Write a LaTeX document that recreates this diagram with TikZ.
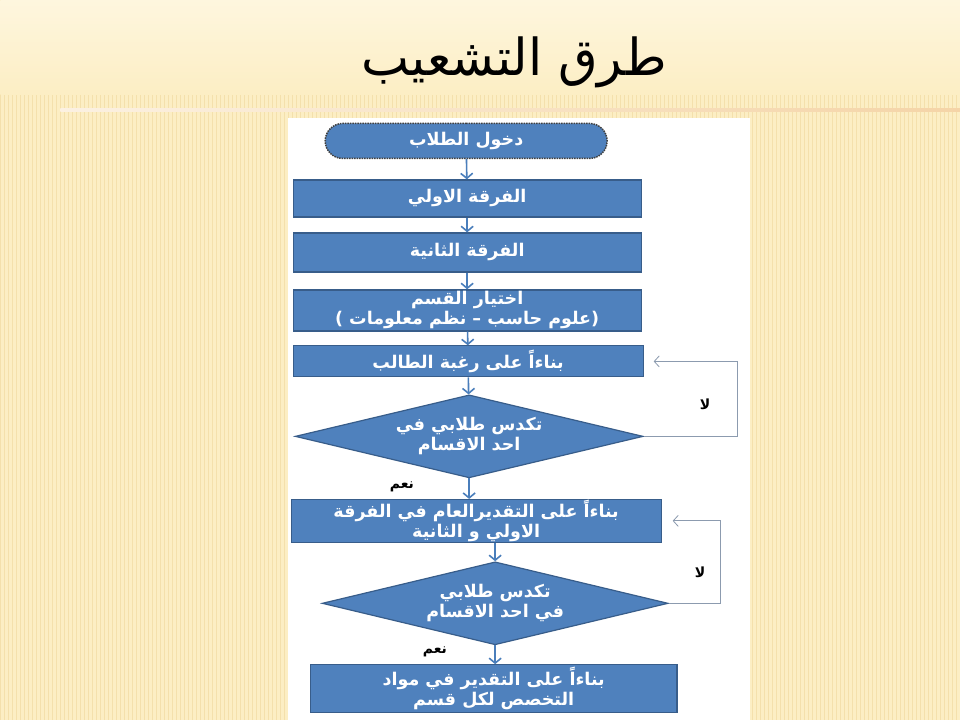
\documentclass[tikz,border=0pt]{standalone}
\usepackage{fontspec}
\usepackage{xcolor}
\usepackage{tikz}
\usetikzlibrary{shapes.geometric, shapes.misc, arrows.meta, positioning, calc}
\TeXXeTstate=1
\newfontfamily\arabicfont[Script=Arabic]{DejaVu Sans}
\definecolor{boxblue}{RGB}{79,129,189}
\definecolor{boxedge}{RGB}{56,93,138}
\definecolor{arrowblue}{RGB}{74,126,187}
\definecolor{loopgray}{RGB}{140,155,175}
\definecolor{paper}{RGB}{252,238,196}
\definecolor{papertop}{RGB}{254,246,222}
\definecolor{stripe}{RGB}{230,200,130}
\definecolor{rule}{RGB}{232,160,60}
\tikzstyle{arrow} = [line width=1.6pt, arrowblue, -{Straight Barb[length=5pt,width=12pt]}]
\tikzstyle{retarrow} = [line width=0.8pt, loopgray, -{Straight Barb[length=5pt,width=11pt]}]

\begin{document}
\begin{tikzpicture}[
        x=1pt, y=-1pt,
        process/.style={rectangle, draw=boxedge, line width=1.2pt, fill=boxblue, text=white, align=center, inner sep=0pt, font=\arabicfont\bfseries\fontsize{17.5}{20}\selectfont},
        decision/.style={diamond, aspect=4.2, draw=boxedge, line width=1.2pt, fill=boxblue, text=white, align=center, inner sep=0pt, font=\arabicfont\bfseries\fontsize{17.5}{20}\selectfont},
        answer/.style={text=black, inner sep=0pt, font=\arabicfont\bfseries\fontsize{14}{16}\selectfont}
    ]
        % Slide background
        \fill[paper] (0,0) rectangle (960,720);
        \foreach \x in {0,4,...,956}
            \draw[stripe, opacity=0.35, line width=0.6pt] (\x,70) -- (\x,720);
        \shade[top color=papertop, bottom color=paper] (0,0) rectangle (960,95);
        \shade[left color=rule!15, middle color=rule, right color=rule!45] (60,109) rectangle (960,111.5);
        \fill[white] (288,118) rectangle (750,720);

        % Title
        \node (title) [font=\arabicfont\fontsize{51}{60}\selectfont] at (514,62) {\beginR طرق التشعيب\endR};

        % Define the flow steps
        \node (start) [rounded rectangle, draw=black!75, densely dotted, line width=1.5pt, fill=boxblue, text=white, minimum width=282pt, minimum height=35pt, inner sep=0pt, font=\arabicfont\bfseries\fontsize{17.5}{20}\selectfont] at (466,141) {\beginR دخول الطلاب\endR};
        \node (first) [process, minimum width=348pt, minimum height=37pt] at (467,198.5) {\beginR الفرقة الاولي\endR};
        \node (second) [process, minimum width=348pt, minimum height=39pt] at (467,252.5) {\beginR الفرقة الثانية\endR};
        \node (dept) [process, minimum width=348pt, minimum height=41pt] at (467,310.5) {\beginR اختيار القسم\endR\\\beginR (علوم حاسب – نظم معلومات )\endR};
        \node (wish) [process, minimum width=350pt, minimum height=31pt] at (468,361.5) {\beginR بناءاً على رغبة الطالب\endR};
        \node (crowd1) [decision, minimum width=348pt, minimum height=83pt] at (469,436.5) {\beginR تكدس طلابي في\endR\\\beginR احد الاقسام\endR};
        \node (grade) [process, minimum width=370pt, minimum height=42pt] at (476,521) {\beginR بناءاً على التقديرالعام في الفرقة\endR\\\beginR الاولي و الثانية\endR};
        \node (crowd2) [decision, minimum width=346pt, minimum height=83pt] at (495,603.5) {\beginR تكدس طلابي\endR\\\beginR في احد الاقسام\endR};
        \node (major) [process, minimum width=367pt, minimum height=48pt] at (493.5,689) {\beginR بناءاً على التقدير في مواد\endR\\\beginR التخصص لكل قسم\endR};

        % Add answers
        \node (yes1) [answer, below left=3pt and 55pt of crowd1.south] {نعم};
        \node (yes2) [answer, below left=1pt and 48pt of crowd2.south] {نعم};
        \node (no1) [answer] at (705,404) {لا};
        \node (no2) [answer] at (700,572) {لا};

        % Add arrows
        \draw[arrow] (start) -- (first);
        \draw[arrow] (first) -- (second);
        \draw[arrow] (second) -- (dept);
        \draw[arrow] (dept) -- (wish);
        \draw[arrow] (wish) -- (crowd1);
        \draw[arrow] (crowd1.south) -- (crowd1.south |- grade.north);
        \draw[arrow] (crowd2.north |- grade.south) -- (crowd2.north);
        \draw[arrow] (crowd2.south) -- (crowd2.south |- major.north);

        % Loops back
        \draw[retarrow, shorten >=10pt] (crowd1.east) -- ++(94,0) |- (wish.east);
        \draw[retarrow, shorten >=11pt] (crowd2.east) -- ++(52,0) |- (grade.east);
    \end{tikzpicture}
\end{document}
